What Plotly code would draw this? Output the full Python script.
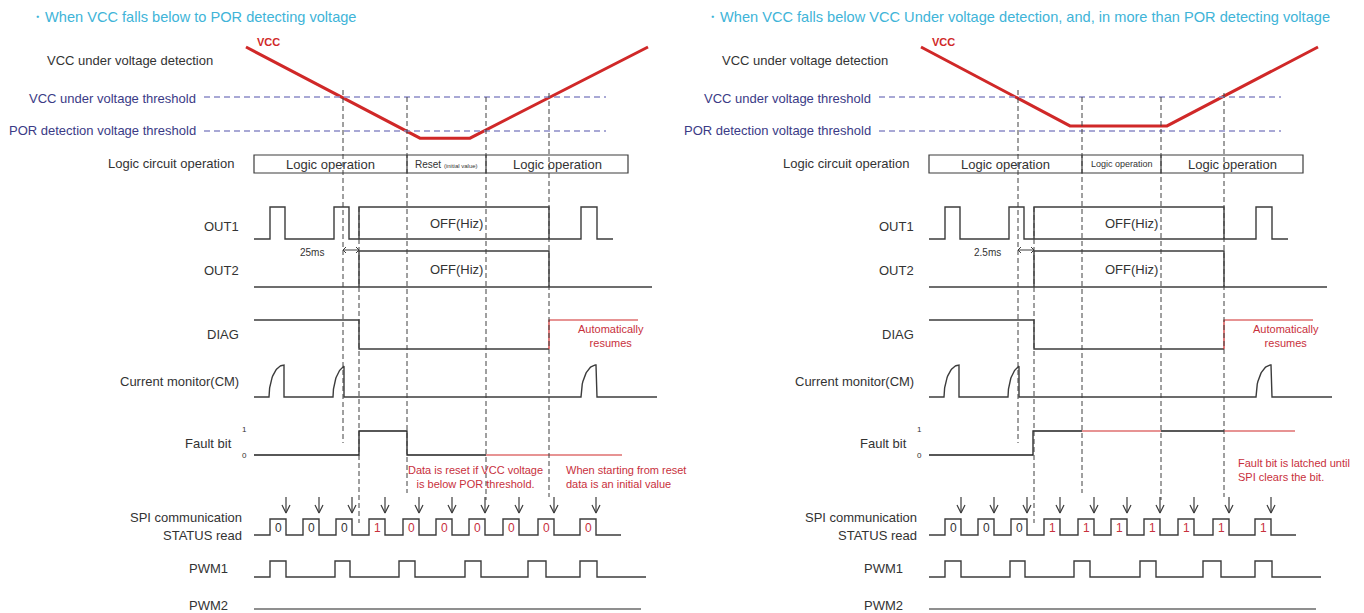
import numpy as np
import plotly.graph_objects as go

# ---------------- data ----------------
TITLES = ["・When VCC falls below to POR detecting voltage",
          "・When VCC falls below VCC Under voltage detection, and, in more than POR detecting voltage"]
PANEL_SHIFT = [0, 675]

# VCC waveform (time, volts) per panel
VCC_T = [[246, 420, 470, 648], [246, 395, 492, 643]]
VCC_V = [[5.47, 2.79, 2.79, 5.47], [5.47, 3.15, 3.15, 5.47]]
UV_TH = 4.0
POR_TH = 3.0
TH_T = [204, 606]

# event times: UV fall, detection (+2.5ms), POR fall, POR recover, UV recover
EVENT_T = [343, 359, 407, 486, 549]

T0 = 254
LOGIC_T = [254, 407, 486, 628]
LOGIC_TXT = [["Logic operation", "Reset <span style='font-size:6px'>(initial value)</span>", "Logic operation"],
             ["Logic operation", "Logic operation", "Logic operation"]]
LOGIC_SIZE = [[13, 10, 13], [13, 9, 13]]

OUT1_PULSES = [(270, 285), (334, 349), (581, 597)]
HIZ = (359, 549)
OUT1_END = 613
OUT2_END = 652

DIAG_T = [254, 359, 359, 549]
DIAG_L = [1, 1, 0, 0]
DIAG_RES_T = [549, 549, 638]
DIAG_RES_L = [0, 1, 1]

CM_START = [269, 333, 581]
CM_END = [284, 344, 597]
CM_RISE = 15
CM_LAST = 657

FAULT_BLACK = [
    [([254, 359, 359, 407, 407, 486], [0, 0, 1, 1, 0, 0])],
    [([254, 358, 358, 407], [0, 0, 1, 1]), ([486, 549], [1, 1])],
]
FAULT_RED = [
    [([486, 622], [0, 0])],
    [([407, 486], [1, 1]), ([549, 620], [1, 1])],
]

SPI_RISE = [270, 303, 336, 369, 403, 436, 469, 503, 538, 580]
SPI_W = 16
SPI_END = 621
SPI_BITS = [["0", "0", "0", "1", "0", "0", "0", "0", "0", "0"],
            ["0", "0", "0", "1", "1", "1", "1", "1", "1", "1"]]

PWM1_PULSES = [(270, 286), (335, 350), (399, 415), (465, 481), (528, 546), (580, 597)]
PWM1_END = 646
PWM2_END = 641

DELAY_TXT = ["25ms", "2.5ms"]
RESUME_TXT = "Automatically<br>resumes"
NOTES = [
    [("Data is reset if VCC voltage<br>is below POR threshold.", 475, 477, "center"),
     ("When starting from reset<br>data is an initial value", 564, 477, "left")],
    [("Fault bit is latched until<br>SPI clears the bit.", 1236 - 675, 470, "left")],
]

# ---------------- layout / style ----------------
ROW = {  # (baseline y, high y) in figure pixel space
    'out1': (239, 207), 'out2': (287, 251), 'diag': (349, 320), 'cm': (397, 365),
    'fault': (455, 431), 'spi': (535, 519), 'pwm1': (577, 561), 'pwm2': (609, 609),
}
GUIDE_Y = [(90, 443), (207, 523), (97, 493), (97, 500), (93, 497)]
UV_Y, V_SCALE = 97, 34.0
BOX_Y = (155, 173)
ARROW_Y = (497, 513)

FONT = "Liberation Sans, Arial, sans-serif"
SIG = "#3c3c3c"
RED = "#d02828"
NOTE_RED = "#c8303c"
NAVY = "#3b3b86"
THC = "#8c8cc8"
TXT = "#333333"
TITLE_C = "#40b4d8"


def vy(v):
    return UV_Y - (v - UV_TH) * V_SCALE


def ly(row, lvl):
    b, h = ROW[row]
    return b + (h - b) * lvl


fig = go.Figure()
shapes = []
ann = []


def add(xs, ys, color=SIG, width=1.4, dash=None):
    fig.add_trace(go.Scatter(x=xs, y=ys, mode='lines', hoverinfo='skip', showlegend=False,
                             line=dict(color=color, width=width, dash=dash)))


def text(x, y, s, size=13, color=TXT, xa='center', bold=False):
    ann.append(dict(x=x, y=y, text=("<b>%s</b>" % s) if bold else s, showarrow=False,
                    xanchor=xa, yanchor='middle', xref='x', yref='y', align=xa,
                    font=dict(family=FONT, size=size, color=color)))


def step(row, pulses, t_end, o):
    xs, ys = [T0 + o], [ly(row, 0)]
    for a, b in pulses:
        xs += [a + o, a + o, b + o, b + o]
        ys += [ly(row, 0), ly(row, 1), ly(row, 1), ly(row, 0)]
    xs.append(t_end + o)
    ys.append(ly(row, 0))
    return xs, ys


for p, o in enumerate(PANEL_SHIFT):
    # title
    text(28 + o, 17, TITLES[p], 14.6, TITLE_C, 'left')
    # row labels
    text(45 + o, 60, "VCC under voltage detection", 13, TXT, 'left')
    text(198 + o, 98, "VCC under voltage threshold", 13, NAVY, 'right')
    text(198 + o, 130, "POR detection voltage threshold", 13, NAVY, 'right')
    text(236 + o, 163, "Logic circuit operation", 13, TXT, 'right')
    text(241 + o, 226, "OUT1", 13, TXT, 'right')
    text(241 + o, 270, "OUT2", 13, TXT, 'right')
    text(241 + o, 334, "DIAG", 13, TXT, 'right')
    text(241 + o, 381, "Current monitor(CM)", 13, TXT, 'right')
    text(234 + o, 443, "Fault bit", 13, TXT, 'right')
    text(244 + o, 429, "1", 8, TXT)
    text(244 + o, 455, "0", 8, TXT)
    text(244 + o, 517, "SPI communication", 13, TXT, 'right')
    text(244 + o, 535, "STATUS read", 13, TXT, 'right')
    text(230 + o, 568, "PWM1", 13, TXT, 'right')
    text(230 + o, 605, "PWM2", 13, TXT, 'right')

    # thresholds
    for th in (UV_TH, POR_TH):
        shapes.append(dict(type='line', xref='x', yref='y', x0=TH_T[0] + o, x1=TH_T[1] + o,
                           y0=vy(th), y1=vy(th), line=dict(color=THC, width=1.5, dash='6px,4px')))
    # guide lines
    for t, (y0, y1) in zip(EVENT_T, GUIDE_Y):
        shapes.append(dict(type='line', xref='x', yref='y', x0=t + o, x1=t + o, y0=y0, y1=y1,
                           line=dict(color="#404040", width=1, dash='5px,3px')))
    # VCC
    add([t + o for t in VCC_T[p]], [vy(v) for v in VCC_V[p]], RED, 3)
    text(268 + o, 42, "VCC", 11, RED, 'center', True)

    # logic box
    shapes.append(dict(type='rect', xref='x', yref='y', x0=LOGIC_T[0] + o, x1=LOGIC_T[-1] + o,
                       y0=BOX_Y[0], y1=BOX_Y[1], line=dict(color=SIG, width=1.2)))
    for t in LOGIC_T[1:-1]:
        shapes.append(dict(type='line', xref='x', yref='y', x0=t + o, x1=t + o,
                           y0=BOX_Y[0], y1=BOX_Y[1], line=dict(color=SIG, width=1.2)))
    for i in range(3):
        text((LOGIC_T[i] + LOGIC_T[i + 1]) / 2 + o, 164, LOGIC_TXT[p][i], LOGIC_SIZE[p][i], TXT)

    # OUT1 (pulses + Hi-Z box)
    xs, ys = step('out1', OUT1_PULSES, OUT1_END, o)
    add(xs, ys)
    add([HIZ[0] + o, HIZ[0] + o, HIZ[1] + o, HIZ[1] + o],
        [ly('out1', 0), ly('out1', 1), ly('out1', 1), ly('out1', 0)])
    text((HIZ[0] + HIZ[1]) / 2 + o + 2, 223, "OFF(Hiz)", 13, TXT)
    # OUT2
    xs, ys = step('out2', [], OUT2_END, o)
    add(xs, ys)
    add([HIZ[0] + o, HIZ[0] + o, HIZ[1] + o, HIZ[1] + o],
        [ly('out2', 0), ly('out2', 1), ly('out2', 1), ly('out2', 0)])
    text((HIZ[0] + HIZ[1]) / 2 + o + 2, 269, "OFF(Hiz)", 13, TXT)
    # delay marker
    text(312 + o, 252, DELAY_TXT[p], 10, TXT)
    a, b, yy = EVENT_T[0] + o, EVENT_T[1] + o, 250
    add([a, b, None, a + 3, a, a + 3, None, b - 3, b, b - 3],
        [yy, yy, None, yy - 3, yy, yy + 3, None, yy - 3, yy, yy + 3], SIG, 1)

    # DIAG
    add([t + o for t in DIAG_T], [ly('diag', l) for l in DIAG_L])
    add([t + o for t in DIAG_RES_T], [ly('diag', l) for l in DIAG_RES_L], RED, 1.2)
    text(611 + o, 336, RESUME_TXT, 11, NOTE_RED)

    # CM (continuous waveform with charging-curve pulses)
    xs, ys = [T0 + o], [ly('cm', 0)]
    for s, e in zip(CM_START, CM_END):
        umax = min(1.0, (e - s) / CM_RISE)
        u = np.linspace(0, umax, 25)
        lv = np.sqrt(1 - (1 - u) ** 2)
        xs += list(s + o + u * CM_RISE) + [e + o]
        ys += [ly('cm', l) for l in lv] + [ly('cm', 0)]
    xs.append(CM_LAST + o)
    ys.append(ly('cm', 0))
    add(xs, ys)

    # Fault bit
    for tt, ll in FAULT_BLACK[p]:
        add([t + o for t in tt], [ly('fault', l) for l in ll], "#202020", 1.3)
    for tt, ll in FAULT_RED[p]:
        add([t + o for t in tt], [ly('fault', l) for l in ll], RED, 1.1)
    for s, x, y, xa in NOTES[p]:
        text(x + o, y, s, 11, NOTE_RED, xa)

    # SPI
    xs, ys = step('spi', [(r, r + SPI_W) for r in SPI_RISE], SPI_END, o)
    add(xs, ys)
    axs, ays = [], []
    for i, r in enumerate(SPI_RISE):
        f = r + SPI_W
        text(r + SPI_W / 2 + o, 528, SPI_BITS[p][i], 12, TXT if i < 3 else NOTE_RED)
        axs += [f + o, f + o, None, f + o - 4, f + o, f + o + 4, None]
        ays += [ARROW_Y[0], ARROW_Y[1], None, ARROW_Y[1] - 8, ARROW_Y[1], ARROW_Y[1] - 8, None]
    add(axs, ays, SIG, 1.2)

    # PWM1 / PWM2
    xs, ys = step('pwm1', PWM1_PULSES, PWM1_END, o)
    add(xs, ys)
    add([T0 + o, PWM2_END + o], [ly('pwm2', 0)] * 2, "#202020", 1.2)

fig.update_layout(
    width=1364, height=613, margin=dict(l=0, r=0, t=0, b=0),
    paper_bgcolor='white', plot_bgcolor='white',
    xaxis=dict(range=[0, 1364], visible=False, fixedrange=True),
    yaxis=dict(range=[613, 0], visible=False, fixedrange=True),
    shapes=shapes, annotations=ann, hovermode=False, showlegend=False,
)
fig.write_html("out.html", config={'displayModeBar': False},
               post_script="document.body.style.margin='0';document.body.style.overflow='hidden';")
